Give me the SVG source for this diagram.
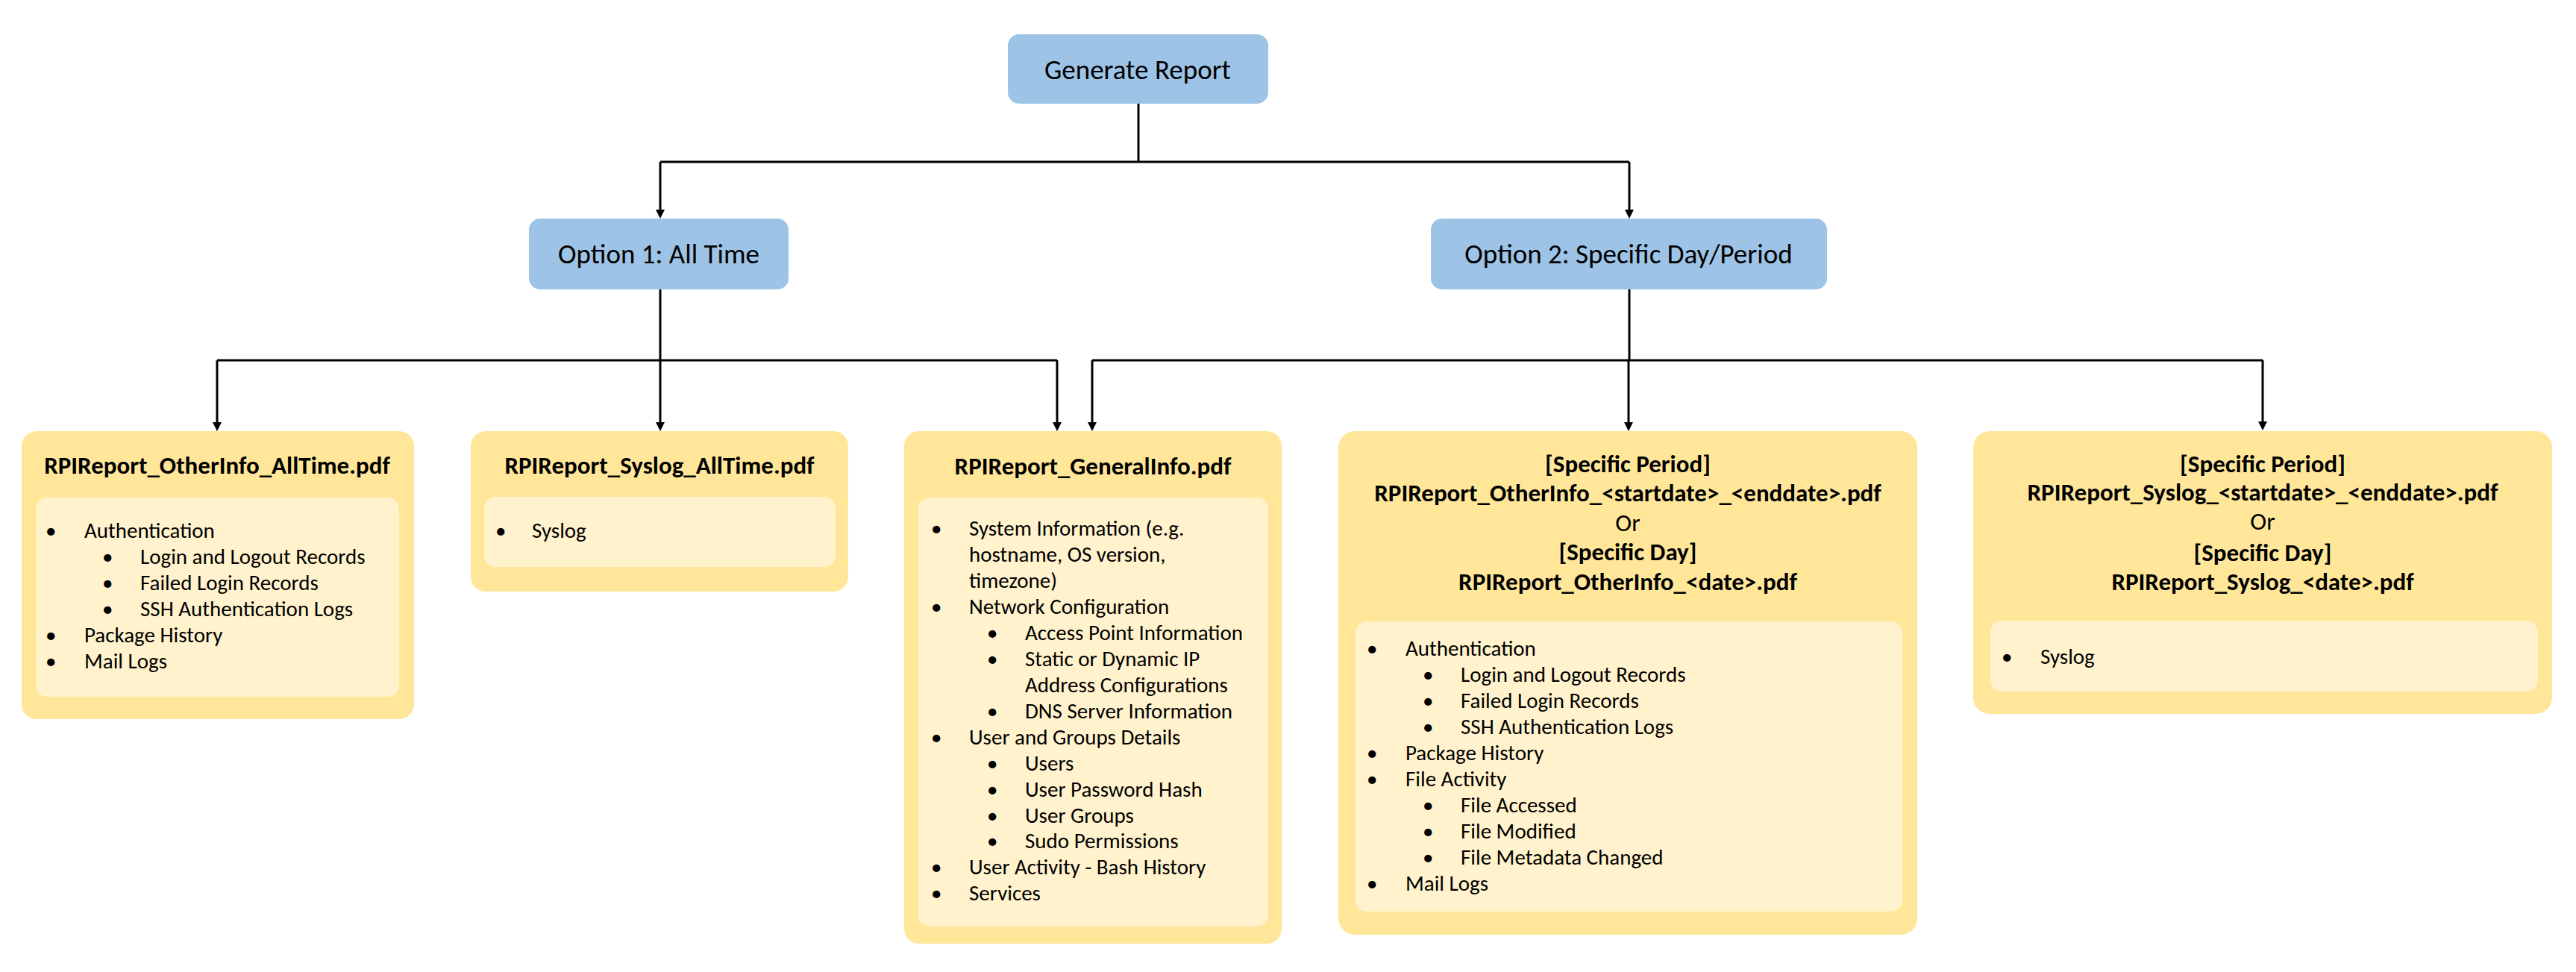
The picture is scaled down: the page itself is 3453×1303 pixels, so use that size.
<svg xmlns="http://www.w3.org/2000/svg" width="3453" height="1303" viewBox="0 0 3453 1303">
<style>
.blue{fill:#9DC3E6}
.outer{fill:#FFE699}
.inner{fill:#FFF2CC}
text{font-family:Carlito,Lato,"Liberation Sans",sans-serif;fill:#000}
.n{font-size:37px;text-anchor:middle}
.t{font-size:33px;font-weight:bold;text-anchor:middle}
.or{font-size:33px;text-anchor:middle}
.b{font-size:29px}
.conn{stroke:#000;stroke-width:3;fill:none}
</style>
<defs>
<marker id="ah" markerUnits="userSpaceOnUse" markerWidth="12" markerHeight="12" refX="0" refY="6" orient="auto" viewBox="0 0 12 12">
<path d="M0,0 L12,6 L0,12 Z" fill="#000"/>
</marker>
</defs>
<rect width="3453" height="1303" fill="#fff"/>
<g id="connectors" class="conn">
<path d="M1526,139 V217"/>
<path d="M885,217 H2184"/>
<path d="M885,217 V281" marker-end="url(#ah)"/>
<path d="M2184,217 V281" marker-end="url(#ah)"/>
<path d="M885,388 V483"/>
<path d="M291,483 H1417"/>
<path d="M291,483 V566" marker-end="url(#ah)"/>
<path d="M885,483 V566" marker-end="url(#ah)"/>
<path d="M1417,483 V566" marker-end="url(#ah)"/>
<path d="M2184,388 V483"/>
<path d="M1464,483 H3033"/>
<path d="M1464,483 V566" marker-end="url(#ah)"/>
<path d="M2183,483 V566" marker-end="url(#ah)"/>
<path d="M3033,483 V565" marker-end="url(#ah)"/>
</g>
<g id="generate-report">
<rect class="blue" x="1351" y="46" width="349" height="93" rx="15"/>
<text class="n" x="1525" y="106">Generate Report</text>
</g>
<g id="option-1">
<rect class="blue" x="709" y="293" width="348" height="95" rx="15"/>
<text class="n" x="883" y="353">Option 1: All Time</text>
</g>
<g id="option-2">
<rect class="blue" x="1918" y="293" width="531" height="95" rx="15"/>
<text class="n" x="2183" y="353">Option 2: Specific Day/Period</text>
</g>
<g id="otherinfo-alltime">
<rect class="outer" x="29" y="578" width="526" height="386" rx="20"/>
<rect class="inner" x="48" y="667" width="487" height="267" rx="15"/>
<text class="t" x="291" y="635">RPIReport_OtherInfo_AllTime.pdf</text>
<text class="b" x="61" y="721">•</text><text class="b" x="113" y="721">Authentication</text>
<text class="b" x="137" y="756">•</text><text class="b" x="188" y="756">Login and Logout Records</text>
<text class="b" x="137" y="791">•</text><text class="b" x="188" y="791">Failed Login Records</text>
<text class="b" x="137" y="826">•</text><text class="b" x="188" y="826">SSH Authentication Logs</text>
<text class="b" x="61" y="861">•</text><text class="b" x="113" y="861">Package History</text>
<text class="b" x="61" y="896">•</text><text class="b" x="113" y="896">Mail Logs</text>
</g>
<g id="syslog-alltime">
<rect class="outer" x="631" y="578" width="506" height="215" rx="20"/>
<rect class="inner" x="649" y="666" width="471" height="94" rx="15"/>
<text class="t" x="884" y="635">RPIReport_Syslog_AllTime.pdf</text>
<text class="b" x="664" y="721">•</text><text class="b" x="713" y="721">Syslog</text>
</g>
<g id="generalinfo">
<rect class="outer" x="1212" y="578" width="506" height="687" rx="20"/>
<rect class="inner" x="1231" y="667" width="469" height="575" rx="15"/>
<text class="t" x="1465" y="636">RPIReport_GeneralInfo.pdf</text>
<text class="b" x="1248" y="718">•</text><text class="b" x="1299" y="718">System Information (e.g.</text>
<text class="b" x="1299" y="753">hostname, OS version,</text>
<text class="b" x="1299" y="788">timezone)</text>
<text class="b" x="1248" y="823">•</text><text class="b" x="1299" y="823">Network Configuration</text>
<text class="b" x="1323" y="858">•</text><text class="b" x="1374" y="858">Access Point Information</text>
<text class="b" x="1323" y="893">•</text><text class="b" x="1374" y="893">Static or Dynamic IP</text>
<text class="b" x="1374" y="928">Address Configurations</text>
<text class="b" x="1323" y="963">•</text><text class="b" x="1374" y="963">DNS Server Information</text>
<text class="b" x="1248" y="998">•</text><text class="b" x="1299" y="998">User and Groups Details</text>
<text class="b" x="1323" y="1033">•</text><text class="b" x="1374" y="1033">Users</text>
<text class="b" x="1323" y="1068">•</text><text class="b" x="1374" y="1068">User Password Hash</text>
<text class="b" x="1323" y="1103">•</text><text class="b" x="1374" y="1103">User Groups</text>
<text class="b" x="1323" y="1137">•</text><text class="b" x="1374" y="1137">Sudo Permissions</text>
<text class="b" x="1248" y="1172">•</text><text class="b" x="1299" y="1172">User Activity - Bash History</text>
<text class="b" x="1248" y="1207">•</text><text class="b" x="1299" y="1207">Services</text>
</g>
<g id="otherinfo-specific">
<rect class="outer" x="1794" y="578" width="776" height="675" rx="22"/>
<rect class="inner" x="1817" y="833" width="733" height="389" rx="15"/>
<text class="t" x="2182" y="633">[Specific Period]</text>
<text class="t" x="2182" y="672">RPIReport_OtherInfo_&lt;startdate&gt;_&lt;enddate&gt;.pdf</text>
<text class="or" x="2182" y="712">Or</text>
<text class="t" x="2182" y="751">[Specific Day]</text>
<text class="t" x="2182" y="791">RPIReport_OtherInfo_&lt;date&gt;.pdf</text>
<text class="b" x="1832" y="879">•</text><text class="b" x="1884" y="879">Authentication</text>
<text class="b" x="1907" y="914">•</text><text class="b" x="1958" y="914">Login and Logout Records</text>
<text class="b" x="1907" y="949">•</text><text class="b" x="1958" y="949">Failed Login Records</text>
<text class="b" x="1907" y="984">•</text><text class="b" x="1958" y="984">SSH Authentication Logs</text>
<text class="b" x="1832" y="1019">•</text><text class="b" x="1884" y="1019">Package History</text>
<text class="b" x="1832" y="1054">•</text><text class="b" x="1884" y="1054">File Activity</text>
<text class="b" x="1907" y="1089">•</text><text class="b" x="1958" y="1089">File Accessed</text>
<text class="b" x="1907" y="1124">•</text><text class="b" x="1958" y="1124">File Modified</text>
<text class="b" x="1907" y="1159">•</text><text class="b" x="1958" y="1159">File Metadata Changed</text>
<text class="b" x="1832" y="1194">•</text><text class="b" x="1884" y="1194">Mail Logs</text>
</g>
<g id="syslog-specific">
<rect class="outer" x="2645" y="578" width="776" height="379" rx="22"/>
<rect class="inner" x="2668" y="832" width="734" height="95" rx="15"/>
<text class="t" x="3033" y="633">[Specific Period]</text>
<text class="t" x="3033" y="671">RPIReport_Syslog_&lt;startdate&gt;_&lt;enddate&gt;.pdf</text>
<text class="or" x="3033" y="710">Or</text>
<text class="t" x="3033" y="752">[Specific Day]</text>
<text class="t" x="3033" y="791">RPIReport_Syslog_&lt;date&gt;.pdf</text>
<text class="b" x="2683" y="890">•</text><text class="b" x="2735" y="890">Syslog</text>
</g>
</svg>
